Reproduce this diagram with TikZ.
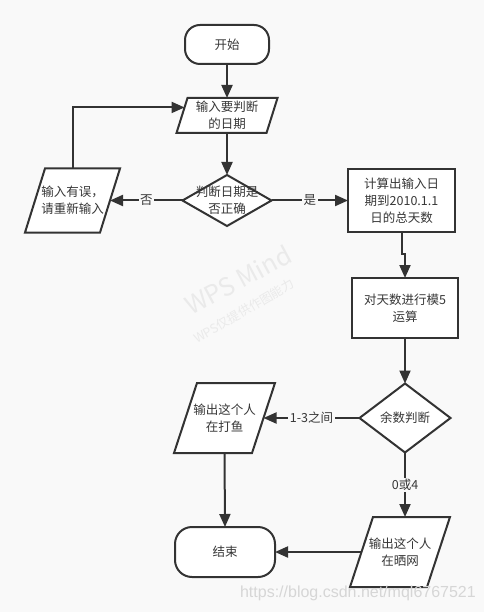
\documentclass[tikz,border=0pt]{standalone}
\usepackage{fontspec}
\newfontfamily\cjk{Noto Sans CJK SC}
\newfontfamily\wsans{Liberation Sans}
\usetikzlibrary{shapes.geometric,arrows.meta,calc}
\definecolor{bg}{RGB}{249,249,249}
\definecolor{ink}{RGB}{51,51,51}
\definecolor{txt}{RGB}{55,55,55}
\definecolor{wm}{RGB}{234,234,234}
\definecolor{wmc}{RGB}{214,214,214}
% parallelogram around a rectangle node: #1 node name, #2 half slant
\newcommand\drawpara[2]{%
  \coordinate (#1tl) at ($(#1.north west)+(#2,0)$);
  \coordinate (#1tr) at ($(#1.north east)+(#2,0)$);
  \coordinate (#1br) at ($(#1.south east)-(#2,0)$);
  \coordinate (#1bl) at ($(#1.south west)-(#2,0)$);
  \draw[base] (#1tl) -- (#1tr) -- (#1br) -- (#1bl) -- cycle;}
\begin{document}
\begin{tikzpicture}[x=1pt,y=-1pt,
  base/.style={draw=ink, line width=2pt, fill=white, inner sep=0pt, outer sep=0pt},
  term/.style={base, rectangle, rounded corners=15pt},
  proc/.style={base, rectangle},
  dec/.style={base, diamond},
  iobox/.style={rectangle, draw=none, inner sep=0pt, outer sep=0pt},
  lbl/.style={inner sep=0pt, font=\cjk\fontsize{12.5}{17}\selectfont, text=txt, align=center},
  elab/.style={fill=bg, inner sep=1.5pt, font=\cjk\fontsize{12.5}{15}\selectfont, text=txt},
  arr/.style={draw=ink, line width=2pt, -{Triangle[length=13pt,width=11pt]}}
]
\useasboundingbox (0,0) rectangle (484,612);
\fill[bg] (0,0) rectangle (484,612);

% watermarks
\node[font=\cjk\fontsize{25}{25}\selectfont, text=wm, rotate=28] (wm1) at (238,280) {WPS Mind};
\node[font=\cjk\fontsize{12.5}{12.5}\selectfont, text=wm, rotate=30] (wm2) at (244,311) {WPS仅提供作图能力};

% shapes
\node[term, minimum width=84pt, minimum height=39pt] (start) at (227,44.5) {};
\node[lbl] (startt) at (start) {开始};

\node[iobox, minimum width=90pt, minimum height=35pt] (p1) at (227,115.5) {};
\drawpara{p1}{5.5}
\node[lbl] (p1t) at (p1) {输入要判断\\的日期};

\node[dec, minimum width=89pt, minimum height=51pt] (d1) at (227,200.5) {};
\node[lbl] (d1t) at (d1) {判断日期是\\否正确};

\node[iobox, minimum width=75pt, minimum height=64pt] (p2) at (72.5,200.5) {};
\drawpara{p2}{10}
\node[lbl] (p2t) at (p2) {输入有误，\\请重新输入};

\node[proc, minimum width=107pt, minimum height=63pt] (r2) at (401.5,200.5) {};
\node[lbl] (r2t) at (r2) {计算出输入日\\期到2010.1.1\\日的总天数};

\node[proc, minimum width=106pt, minimum height=60pt] (r3) at (405,308) {};
\node[lbl] (r3t) at (r3) {对天数进行模5\\运算};

\node[dec, minimum width=91pt, minimum height=69pt] (d2) at (405,418) {};
\node[lbl] (d2t) at (d2) {余数判断};

\node[iobox, minimum width=78pt, minimum height=70pt] (p3) at (224.5,418) {};
\drawpara{p3}{11.5}
\node[lbl] (p3t) at (p3) {输出这个人\\在打鱼};

\node[iobox, minimum width=77pt, minimum height=70pt] (p4) at (400,552) {};
\drawpara{p4}{11.5}
\node[lbl] (p4t) at (p4) {输出这个人\\在晒网};

\node[term, minimum width=100pt, minimum height=50pt, rounded corners=17pt] (end) at (225,552) {};
\node[lbl] (endt) at (end) {结束};

% connectors
\coordinate (p1in) at ($(p1tl)!0.27!(p1bl)$);
\draw[arr] (start.south) -- (p1.north);
\draw[arr] (p1.south) -- (d1.north);
\draw[arr] (d1.west) -- node[elab] (lno) {否} (p2.east);
\draw[arr] (d1.east) -- node[elab] (lyes) {是} (r2.west);
\draw[arr] (p2.north) |- (p1in);
\draw[arr] (r2.south) -- ++(0,22) -| (r3.north);
\draw[arr] (r3.south) -- (d2.north);
\draw[arr] (d2.west) -- node[elab] (l13) {1-3之间} (p3.east);
\draw[arr] (d2.south) -- node[elab] (l04) {0或4} (d2.south |- p4.north);
\draw[arr] (p3.south) -- (end.north);
\draw[arr] (p4.west) -- (end.east);

% csdn watermark
\node[font=\wsans\fontsize{16}{16}\selectfont, text=wmc, anchor=east, inner sep=0pt] (csdn) at (476,593) {https://blog.csdn.net/mql6767521};
\end{tikzpicture}
\end{document}
